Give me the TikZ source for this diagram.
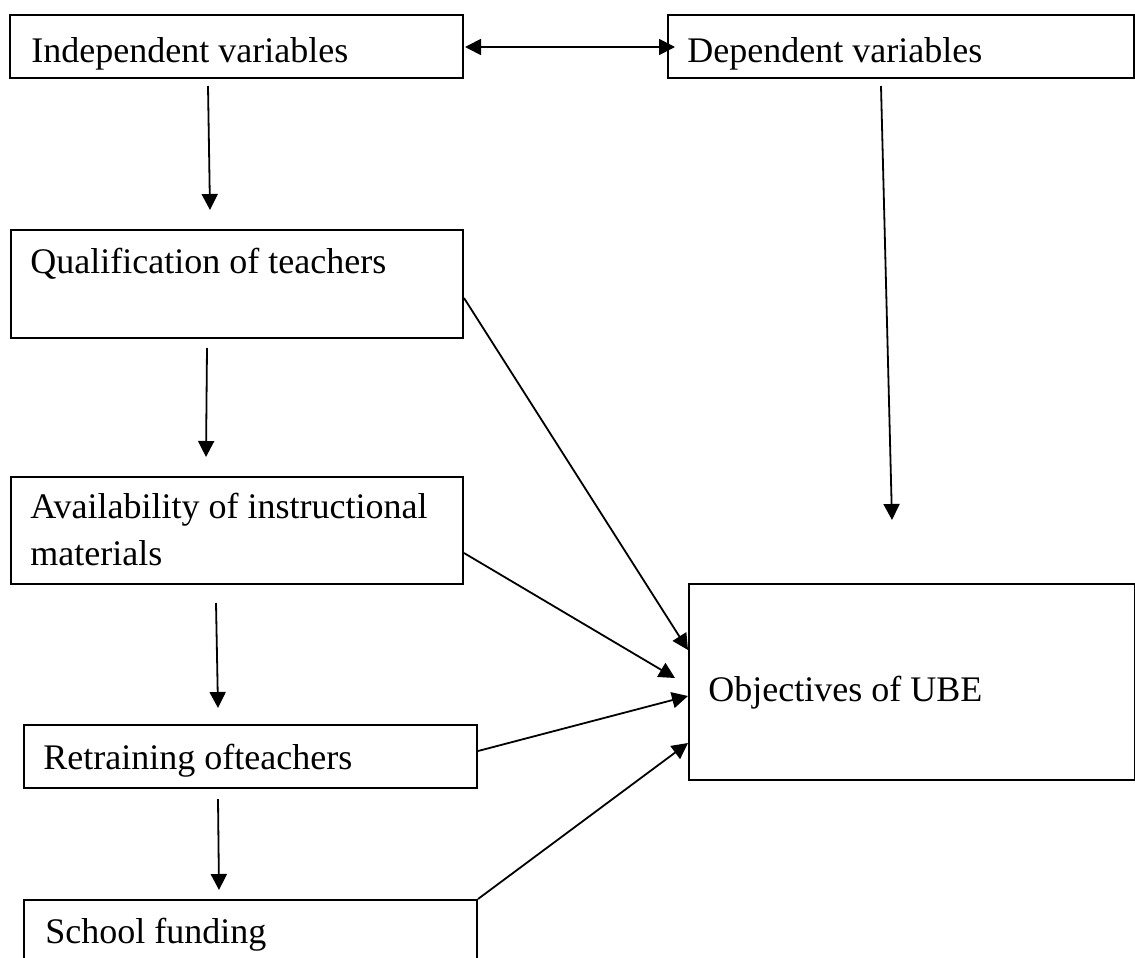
\documentclass[tikz,border=0pt]{standalone}
\usepackage{fontspec}
\setmainfont{Liberation Serif}
\usetikzlibrary{arrows.meta,calc}

\tikzset{
    box/.style={draw, line width=1pt, inner sep=0pt, anchor=north west},
    lbl/.style={anchor=base west, inner sep=0pt, align=left, font=\fontsize{18}{23.5}\selectfont},
    arr/.style={-{Triangle[length=8pt,width=8pt]}, line width=0.9pt}
}

\begin{document}
\begin{tikzpicture}[x=0.5pt, y=-0.5pt]
    \useasboundingbox (0,0) rectangle (1135,958);
    \clip (0,0) rectangle (1135,958);

    % boxes
    \node[box, minimum width=226.5pt, minimum height=31.5pt] (indep) at (9,14) {};
    \node[box, minimum width=233pt, minimum height=31.5pt] (dep) at (667,14) {};
    \node[box, minimum width=226pt, minimum height=54pt] (qual) at (10,229) {};
    \node[box, minimum width=226pt, minimum height=53.5pt] (avail) at (10,476) {};
    \node[box, minimum width=226.5pt, minimum height=31.5pt] (retrain) at (23,724) {};
    \node[box, minimum width=226.5pt, minimum height=50pt] (school) at (23,899) {};
    \node[box, minimum width=223pt, minimum height=98pt] (obj) at (688,583) {};

    % texts
    \node[lbl] (indeptxt) at (31,62) {Independent variables};
    \node[lbl] (deptxt) at (687,62) {Dependent variables};
    \node[lbl] (qualtxt) at (30,273) {Qualification of teachers};
    \node[lbl] (availtxt) at (30,565) {Availability of instructional\\materials};
    \node[lbl] (retraintxt) at (43,769) {Retraining ofteachers};
    \node[lbl] (schooltxt) at (45,943) {School funding};
    \node[lbl] (objtxt) at (708,701) {Objectives of UBE};

    % arrows
    \draw[arr, {Triangle[length=8pt,width=8pt]}-{Triangle[length=8pt,width=8pt]}]
        ($(indep.east)+(1,0.5)$) -- ($(dep.west)+(8,0.5)$);
    \draw[arr] ($(indep.south)+(-28.5,7)$) -- ($(qual.north)+(-27,-19)$);
    \draw[arr] ($(dep.south)+(-20,7)$) -- ($(obj.north)+(-20,-63)$);
    \draw[arr] ($(qual.south)+(-30,9)$) -- ($(avail.north)+(-31,-19)$);
    \draw[arr] ($(avail.south)+(-21,18)$) -- ($(retrain.north)+(-32.5,-16)$);
    \draw[arr] ($(retrain.south)+(-32.5,10)$) -- ($(school.north)+(-31.5,-9)$);

    \draw[arr] ($(qual.east)+(0,14)$) -- ($(obj.west)+(0,-32)$);
    \draw[arr] ($(avail.east)+(0,22.5)$) -- ($(obj.west)+(-13,-4)$);
    \draw[arr] ($(retrain.east)+(0,-5.5)$) -- ($(obj.west)+(0,14)$);
    \draw[arr] (school.north east) -- ($(obj.west)+(0,61)$);
\end{tikzpicture}
\end{document}
